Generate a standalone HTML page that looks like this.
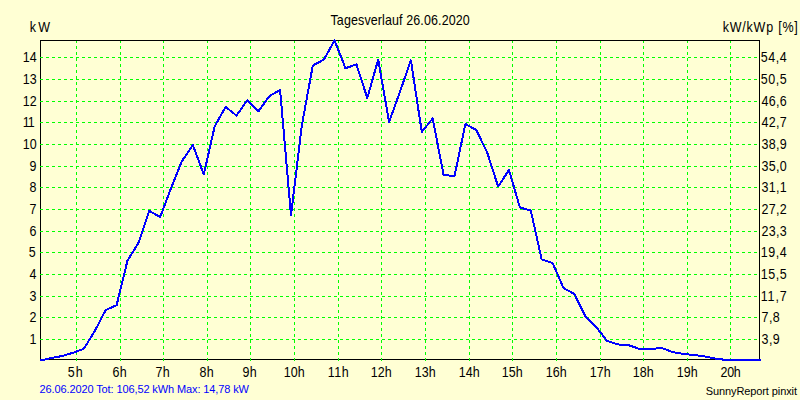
<!DOCTYPE html>
<html><head><meta charset="utf-8"><style>
html,body{margin:0;padding:0;background:#FFFFD4;width:800px;height:400px;overflow:hidden}
svg{display:block}
</style></head><body>
<svg width="800" height="400" viewBox="0 0 800 400">
<rect x="0" y="0" width="800" height="400" fill="#FFFFD4"/>
<g shape-rendering="crispEdges">
<rect x="40.5" y="40.5" width="719" height="319" fill="none" stroke="#000" stroke-width="1"/>
<line x1="40" y1="339.5" x2="759" y2="339.5" stroke="#00FF00" stroke-width="1" stroke-dasharray="3 3"/>
<line x1="40" y1="317.5" x2="759" y2="317.5" stroke="#00FF00" stroke-width="1" stroke-dasharray="3 3"/>
<line x1="40" y1="296.5" x2="759" y2="296.5" stroke="#00FF00" stroke-width="1" stroke-dasharray="3 3"/>
<line x1="40" y1="274.5" x2="759" y2="274.5" stroke="#00FF00" stroke-width="1" stroke-dasharray="3 3"/>
<line x1="40" y1="252.5" x2="759" y2="252.5" stroke="#00FF00" stroke-width="1" stroke-dasharray="3 3"/>
<line x1="40" y1="231.5" x2="759" y2="231.5" stroke="#00FF00" stroke-width="1" stroke-dasharray="3 3"/>
<line x1="40" y1="209.5" x2="759" y2="209.5" stroke="#00FF00" stroke-width="1" stroke-dasharray="3 3"/>
<line x1="40" y1="187.5" x2="759" y2="187.5" stroke="#00FF00" stroke-width="1" stroke-dasharray="3 3"/>
<line x1="40" y1="166.5" x2="759" y2="166.5" stroke="#00FF00" stroke-width="1" stroke-dasharray="3 3"/>
<line x1="40" y1="144.5" x2="759" y2="144.5" stroke="#00FF00" stroke-width="1" stroke-dasharray="3 3"/>
<line x1="40" y1="122.5" x2="759" y2="122.5" stroke="#00FF00" stroke-width="1" stroke-dasharray="3 3"/>
<line x1="40" y1="101.5" x2="759" y2="101.5" stroke="#00FF00" stroke-width="1" stroke-dasharray="3 3"/>
<line x1="40" y1="79.5" x2="759" y2="79.5" stroke="#00FF00" stroke-width="1" stroke-dasharray="3 3"/>
<line x1="40" y1="57.5" x2="759" y2="57.5" stroke="#00FF00" stroke-width="1" stroke-dasharray="3 3"/>
<line x1="76.5" y1="40" x2="76.5" y2="361" stroke="#00FF00" stroke-width="1" stroke-dasharray="3 3"/>
<line x1="120.5" y1="40" x2="120.5" y2="361" stroke="#00FF00" stroke-width="1" stroke-dasharray="3 3"/>
<line x1="163.5" y1="40" x2="163.5" y2="361" stroke="#00FF00" stroke-width="1" stroke-dasharray="3 3"/>
<line x1="207.5" y1="40" x2="207.5" y2="361" stroke="#00FF00" stroke-width="1" stroke-dasharray="3 3"/>
<line x1="250.5" y1="40" x2="250.5" y2="361" stroke="#00FF00" stroke-width="1" stroke-dasharray="3 3"/>
<line x1="294.5" y1="40" x2="294.5" y2="361" stroke="#00FF00" stroke-width="1" stroke-dasharray="3 3"/>
<line x1="338.5" y1="40" x2="338.5" y2="361" stroke="#00FF00" stroke-width="1" stroke-dasharray="3 3"/>
<line x1="381.5" y1="40" x2="381.5" y2="361" stroke="#00FF00" stroke-width="1" stroke-dasharray="3 3"/>
<line x1="425.5" y1="40" x2="425.5" y2="361" stroke="#00FF00" stroke-width="1" stroke-dasharray="3 3"/>
<line x1="469.5" y1="40" x2="469.5" y2="361" stroke="#00FF00" stroke-width="1" stroke-dasharray="3 3"/>
<line x1="512.5" y1="40" x2="512.5" y2="361" stroke="#00FF00" stroke-width="1" stroke-dasharray="3 3"/>
<line x1="556.5" y1="40" x2="556.5" y2="361" stroke="#00FF00" stroke-width="1" stroke-dasharray="3 3"/>
<line x1="600.5" y1="40" x2="600.5" y2="361" stroke="#00FF00" stroke-width="1" stroke-dasharray="3 3"/>
<line x1="643.5" y1="40" x2="643.5" y2="361" stroke="#00FF00" stroke-width="1" stroke-dasharray="3 3"/>
<line x1="687.5" y1="40" x2="687.5" y2="361" stroke="#00FF00" stroke-width="1" stroke-dasharray="3 3"/>
<line x1="730.5" y1="40" x2="730.5" y2="361" stroke="#00FF00" stroke-width="1" stroke-dasharray="3 3"/>
<line x1="40" y1="40.5" x2="760" y2="40.5" stroke="#000" stroke-width="1"/>
</g>
<polyline points="40.30,360.50 51.20,358.10 62.10,356.00 73.00,352.80 83.90,348.70 94.80,331.00 105.70,310.00 116.60,305.20 127.50,260.60 138.40,243.00 149.30,210.90 160.20,217.00 171.10,188.00 182.00,161.00 192.90,145.10 203.80,174.50 214.70,126.25 225.60,106.90 236.50,115.60 247.40,100.00 258.30,111.50 269.20,96.25 280.10,90.00 291.00,215.20 301.90,125.00 312.80,65.50 323.70,59.75 334.60,40.50 345.50,68.30 356.40,64.30 367.30,98.00 378.20,59.60 389.10,122.00 400.00,91.60 410.90,60.30 421.80,132.00 432.70,118.40 443.60,175.00 454.50,176.00 465.40,124.00 476.30,130.00 487.20,152.50 498.10,186.50 509.00,170.00 519.90,207.50 530.80,210.50 541.70,259.50 552.60,263.00 563.50,288.00 574.40,294.00 585.30,316.00 596.20,327.00 607.10,341.00 618.00,344.40 628.90,345.30 639.80,349.00 650.70,349.00 661.60,348.00 672.50,352.00 683.40,354.00 694.30,355.00 705.20,356.50 716.10,358.80 727.00,360.00 737.90,360.00 748.80,360.00 759.70,360.00 761,360" fill="none" stroke="#0000FF" stroke-width="2" stroke-linejoin="round" shape-rendering="crispEdges"/>
<text transform="translate(330.50,25) scale(1,1.1200)" x="0" y="0" font-family="Liberation Sans, sans-serif" font-size="12.5" fill="#000" textLength="139.30" lengthAdjust="spacing">Tagesverlauf 26.06.2020</text>
<text transform="translate(29.70,32) scale(1,1.1200)" x="0" y="0" font-family="Liberation Sans, sans-serif" font-size="12.5" fill="#000" textLength="20.30" lengthAdjust="spacing">kW</text>
<text transform="translate(722.70,32) scale(1,1.1200)" x="0" y="0" font-family="Liberation Sans, sans-serif" font-size="12.5" fill="#000" textLength="75.10" lengthAdjust="spacing">kW/kWp [%]</text>
<text transform="translate(29.50,344) scale(1,1.1200)" x="0" y="0" font-family="Liberation Sans, sans-serif" font-size="12.5" fill="#000" textLength="6.50" lengthAdjust="spacing">1</text>
<text transform="translate(761.50,344) scale(1,1.1200)" x="0" y="0" font-family="Liberation Sans, sans-serif" font-size="12.5" fill="#000" textLength="18.30" lengthAdjust="spacing">3,9</text>
<text transform="translate(29.50,322) scale(1,1.1200)" x="0" y="0" font-family="Liberation Sans, sans-serif" font-size="12.5" fill="#000" textLength="6.50" lengthAdjust="spacing">2</text>
<text transform="translate(761.50,322) scale(1,1.1200)" x="0" y="0" font-family="Liberation Sans, sans-serif" font-size="12.5" fill="#000" textLength="18.30" lengthAdjust="spacing">7,8</text>
<text transform="translate(29.50,301) scale(1,1.1200)" x="0" y="0" font-family="Liberation Sans, sans-serif" font-size="12.5" fill="#000" textLength="6.50" lengthAdjust="spacing">3</text>
<text transform="translate(760.70,301) scale(1,1.1200)" x="0" y="0" font-family="Liberation Sans, sans-serif" font-size="12.5" fill="#000" textLength="26.10" lengthAdjust="spacing">11,7</text>
<text transform="translate(29.50,279) scale(1,1.1200)" x="0" y="0" font-family="Liberation Sans, sans-serif" font-size="12.5" fill="#000" textLength="6.50" lengthAdjust="spacing">4</text>
<text transform="translate(760.70,279) scale(1,1.1200)" x="0" y="0" font-family="Liberation Sans, sans-serif" font-size="12.5" fill="#000" textLength="26.10" lengthAdjust="spacing">15,5</text>
<text transform="translate(28.70,257) scale(1,1.1200)" x="0" y="0" font-family="Liberation Sans, sans-serif" font-size="12.5" fill="#000" textLength="6.50" lengthAdjust="spacing">5</text>
<text transform="translate(760.70,257) scale(1,1.1200)" x="0" y="0" font-family="Liberation Sans, sans-serif" font-size="12.5" fill="#000" textLength="26.10" lengthAdjust="spacing">19,4</text>
<text transform="translate(29.50,236) scale(1,1.1200)" x="0" y="0" font-family="Liberation Sans, sans-serif" font-size="12.5" fill="#000" textLength="6.50" lengthAdjust="spacing">6</text>
<text transform="translate(761.50,236) scale(1,1.1200)" x="0" y="0" font-family="Liberation Sans, sans-serif" font-size="12.5" fill="#000" textLength="25.30" lengthAdjust="spacing">23,3</text>
<text transform="translate(29.50,214) scale(1,1.1200)" x="0" y="0" font-family="Liberation Sans, sans-serif" font-size="12.5" fill="#000" textLength="6.50" lengthAdjust="spacing">7</text>
<text transform="translate(761.50,214) scale(1,1.1200)" x="0" y="0" font-family="Liberation Sans, sans-serif" font-size="12.5" fill="#000" textLength="25.30" lengthAdjust="spacing">27,2</text>
<text transform="translate(29.50,192) scale(1,1.1200)" x="0" y="0" font-family="Liberation Sans, sans-serif" font-size="12.5" fill="#000" textLength="6.50" lengthAdjust="spacing">8</text>
<text transform="translate(761.50,192) scale(1,1.1200)" x="0" y="0" font-family="Liberation Sans, sans-serif" font-size="12.5" fill="#000" textLength="25.30" lengthAdjust="spacing">31,1</text>
<text transform="translate(29.50,171) scale(1,1.1200)" x="0" y="0" font-family="Liberation Sans, sans-serif" font-size="12.5" fill="#000" textLength="6.50" lengthAdjust="spacing">9</text>
<text transform="translate(761.50,171) scale(1,1.1200)" x="0" y="0" font-family="Liberation Sans, sans-serif" font-size="12.5" fill="#000" textLength="25.30" lengthAdjust="spacing">35,0</text>
<text transform="translate(22.70,149) scale(1,1.1200)" x="0" y="0" font-family="Liberation Sans, sans-serif" font-size="12.5" fill="#000" textLength="14.10" lengthAdjust="spacing">10</text>
<text transform="translate(761.50,149) scale(1,1.1200)" x="0" y="0" font-family="Liberation Sans, sans-serif" font-size="12.5" fill="#000" textLength="25.30" lengthAdjust="spacing">38,9</text>
<text transform="translate(22.70,127) scale(1,1.1200)" x="0" y="0" font-family="Liberation Sans, sans-serif" font-size="12.5" fill="#000" textLength="12.10" lengthAdjust="spacing">11</text>
<text transform="translate(761.50,127) scale(1,1.1200)" x="0" y="0" font-family="Liberation Sans, sans-serif" font-size="12.5" fill="#000" textLength="25.30" lengthAdjust="spacing">42,7</text>
<text transform="translate(22.70,106) scale(1,1.1200)" x="0" y="0" font-family="Liberation Sans, sans-serif" font-size="12.5" fill="#000" textLength="14.10" lengthAdjust="spacing">12</text>
<text transform="translate(761.50,106) scale(1,1.1200)" x="0" y="0" font-family="Liberation Sans, sans-serif" font-size="12.5" fill="#000" textLength="25.30" lengthAdjust="spacing">46,6</text>
<text transform="translate(22.70,84) scale(1,1.1200)" x="0" y="0" font-family="Liberation Sans, sans-serif" font-size="12.5" fill="#000" textLength="14.10" lengthAdjust="spacing">13</text>
<text transform="translate(760.70,84) scale(1,1.1200)" x="0" y="0" font-family="Liberation Sans, sans-serif" font-size="12.5" fill="#000" textLength="26.10" lengthAdjust="spacing">50,5</text>
<text transform="translate(22.70,62) scale(1,1.1200)" x="0" y="0" font-family="Liberation Sans, sans-serif" font-size="12.5" fill="#000" textLength="14.10" lengthAdjust="spacing">14</text>
<text transform="translate(760.70,62) scale(1,1.1200)" x="0" y="0" font-family="Liberation Sans, sans-serif" font-size="12.5" fill="#000" textLength="26.10" lengthAdjust="spacing">54,4</text>
<text transform="translate(67.70,377) scale(1,1.1200)" x="0" y="0" font-family="Liberation Sans, sans-serif" font-size="12.5" fill="#000" textLength="15.10" lengthAdjust="spacing">5h</text>
<text transform="translate(112.50,377) scale(1,1.1200)" x="0" y="0" font-family="Liberation Sans, sans-serif" font-size="12.5" fill="#000" textLength="14.30" lengthAdjust="spacing">6h</text>
<text transform="translate(155.50,377) scale(1,1.1200)" x="0" y="0" font-family="Liberation Sans, sans-serif" font-size="12.5" fill="#000" textLength="14.30" lengthAdjust="spacing">7h</text>
<text transform="translate(199.50,377) scale(1,1.1200)" x="0" y="0" font-family="Liberation Sans, sans-serif" font-size="12.5" fill="#000" textLength="14.30" lengthAdjust="spacing">8h</text>
<text transform="translate(242.50,377) scale(1,1.1200)" x="0" y="0" font-family="Liberation Sans, sans-serif" font-size="12.5" fill="#000" textLength="14.30" lengthAdjust="spacing">9h</text>
<text transform="translate(283.70,377) scale(1,1.1200)" x="0" y="0" font-family="Liberation Sans, sans-serif" font-size="12.5" fill="#000" textLength="21.10" lengthAdjust="spacing">10h</text>
<text transform="translate(327.70,377) scale(1,1.1200)" x="0" y="0" font-family="Liberation Sans, sans-serif" font-size="12.5" fill="#000" textLength="21.10" lengthAdjust="spacing">11h</text>
<text transform="translate(370.70,377) scale(1,1.1200)" x="0" y="0" font-family="Liberation Sans, sans-serif" font-size="12.5" fill="#000" textLength="21.10" lengthAdjust="spacing">12h</text>
<text transform="translate(414.70,377) scale(1,1.1200)" x="0" y="0" font-family="Liberation Sans, sans-serif" font-size="12.5" fill="#000" textLength="21.10" lengthAdjust="spacing">13h</text>
<text transform="translate(458.70,377) scale(1,1.1200)" x="0" y="0" font-family="Liberation Sans, sans-serif" font-size="12.5" fill="#000" textLength="21.10" lengthAdjust="spacing">14h</text>
<text transform="translate(501.70,377) scale(1,1.1200)" x="0" y="0" font-family="Liberation Sans, sans-serif" font-size="12.5" fill="#000" textLength="21.10" lengthAdjust="spacing">15h</text>
<text transform="translate(545.70,377) scale(1,1.1200)" x="0" y="0" font-family="Liberation Sans, sans-serif" font-size="12.5" fill="#000" textLength="21.10" lengthAdjust="spacing">16h</text>
<text transform="translate(589.70,377) scale(1,1.1200)" x="0" y="0" font-family="Liberation Sans, sans-serif" font-size="12.5" fill="#000" textLength="21.10" lengthAdjust="spacing">17h</text>
<text transform="translate(632.70,377) scale(1,1.1200)" x="0" y="0" font-family="Liberation Sans, sans-serif" font-size="12.5" fill="#000" textLength="21.10" lengthAdjust="spacing">18h</text>
<text transform="translate(676.70,377) scale(1,1.1200)" x="0" y="0" font-family="Liberation Sans, sans-serif" font-size="12.5" fill="#000" textLength="21.10" lengthAdjust="spacing">19h</text>
<text transform="translate(720.50,377) scale(1,1.1200)" x="0" y="0" font-family="Liberation Sans, sans-serif" font-size="12.5" fill="#000" textLength="20.30" lengthAdjust="spacing">20h</text>
<text transform="translate(39.50,393)" x="0" y="0" font-family="Liberation Sans, sans-serif" font-size="11" fill="#0000FF" textLength="209.50" lengthAdjust="spacing">26.06.2020 Tot: 106,52 kWh Max: 14,78 kW</text>
<text transform="translate(705.70,395)" x="0" y="0" font-family="Liberation Sans, sans-serif" font-size="11" fill="#000" textLength="91.30" lengthAdjust="spacing">SunnyReport pinxit</text>
</svg>
</body></html>
